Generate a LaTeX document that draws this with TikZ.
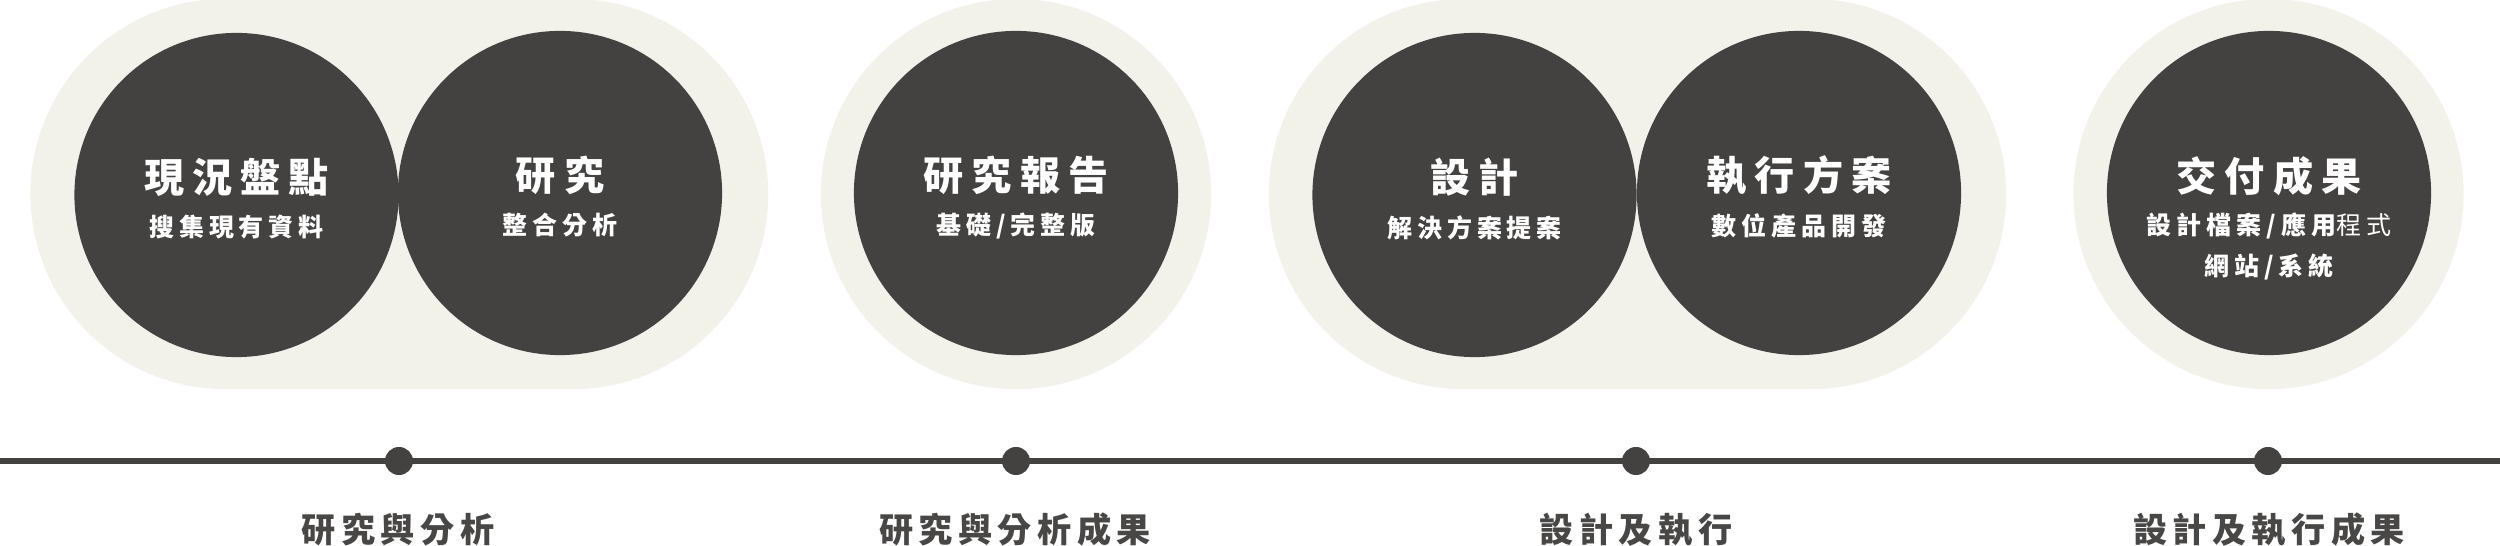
\documentclass[tikz,border=0pt]{standalone}
\usepackage{fontspec}
\newfontfamily\cjkt[LetterSpace=20]{Noto Sans CJK TC}
\newfontfamily\cjkb[LetterSpace=16]{Noto Sans CJK TC}
\definecolor{dark}{HTML}{434240}
\definecolor{cream}{HTML}{F2F1EA}
\definecolor{txt}{HTML}{484746}
\tikzset{
  bgshape/.style={fill=cream, draw=none, inner sep=0pt, rounded corners=1.95cm, minimum height=3.9cm},
  disc/.style={circle, fill=dark, draw=none, inner sep=0pt, minimum size=3.24cm},
  ttl/.style={text=white, inner sep=0pt, font=\cjkt\bfseries\fontsize{11.4pt}{12pt}\selectfont},
  sub/.style={text=white, inner sep=0pt, font=\cjkt\bfseries\fontsize{7.1pt}{8pt}\selectfont},
  lbl/.style={text=txt, inner sep=0pt, font=\cjkb\bfseries\fontsize{9.7pt}{10pt}\selectfont},
  dotnode/.style={circle, fill=dark, draw=none, inner sep=0pt, minimum size=0.28cm},
  tline/.style={draw=dark, line width=1.7pt}
}
\begin{document}
\begin{tikzpicture}[x=0.01cm, y=-0.01cm]
\useasboundingbox (0,0) rectangle (2500,546);
\fill[white] (0,0) rectangle (2500,546);
% backgrounds
\node[bgshape, minimum width=7.374cm] (bg1) at (399.3,194) {};
\node[bgshape, minimum width=3.9cm] (bg2) at (1016,194) {};
\node[bgshape, minimum width=7.37cm] (bg3) at (1637.5,194) {};
\node[bgshape, minimum width=3.9cm] (bg4) at (2268.5,194) {};
% discs
\node[disc] (c1) at (236.5,195) {};
\node[disc] (c2) at (560,193) {};
\node[disc] (c3) at (1016,193) {};
\node[disc] (c4) at (1474.5,195) {};
\node[disc] (c5) at (1799,193) {};
\node[disc] (c6) at (2269,193) {};
% texts
\node[ttl] (t1) at (236.5,177) {現況盤點\hspace{-0.2em}};
\node[sub] (s1) at (236.5,227.5) {搜集現有資料\hspace{-0.2em}};
\node[ttl] (t2) at (560,175) {研究\hspace{-0.2em}};
\node[sub] (s2) at (560,225.5) {整合分析\hspace{-0.2em}};
\node[ttl] (t3) at (1016,175) {研究報告\hspace{-0.2em}};
\node[sub] (s3) at (1016,225.5) {基礎/完整版\hspace{-0.2em}};
\node[ttl] (t4) at (1474.5,177) {設計\hspace{-0.2em}};
\node[sub] (s4) at (1474.5,227.5) {解決方案提案\hspace{-0.2em}};
\node[ttl] (t5) at (1799,175) {執行方案\hspace{-0.2em}};
\node[sub] (s5) at (1799,225.5) {數位產品開發\hspace{-0.2em}};
\node[ttl] (t6) at (2269,176) {交付成果\hspace{-0.2em}};
\node[sub] (s6) at (2269,226) {設計檔案/應用{\mdseries 程式}\hspace{-0.2em}};
\node[sub] (s6b) at (2269,267) {網站/系統\hspace{-0.2em}};
% timeline
\coordinate (ls) at (0,461);
\coordinate (le) at (2500,461);
\draw[tline] (ls) -- (le);
\node[dotnode] (d1) at (399,461) {};
\node[dotnode] (d2) at (1016,461) {};
\node[dotnode] (d3) at (1636,461) {};
\node[dotnode] (d4) at (2268,461) {};
% labels
\node[lbl] (l1) at (398,530) {研究與分析\hspace{-0.16em}};
\node[lbl] (l2) at (1015,530) {研究與分析成果\hspace{-0.16em}};
\node[lbl] (l3) at (1636,530) {設計及執行\hspace{-0.16em}};
\node[lbl] (l4) at (2269,530) {設計及執行成果\hspace{-0.16em}};
\end{tikzpicture}
\end{document}
